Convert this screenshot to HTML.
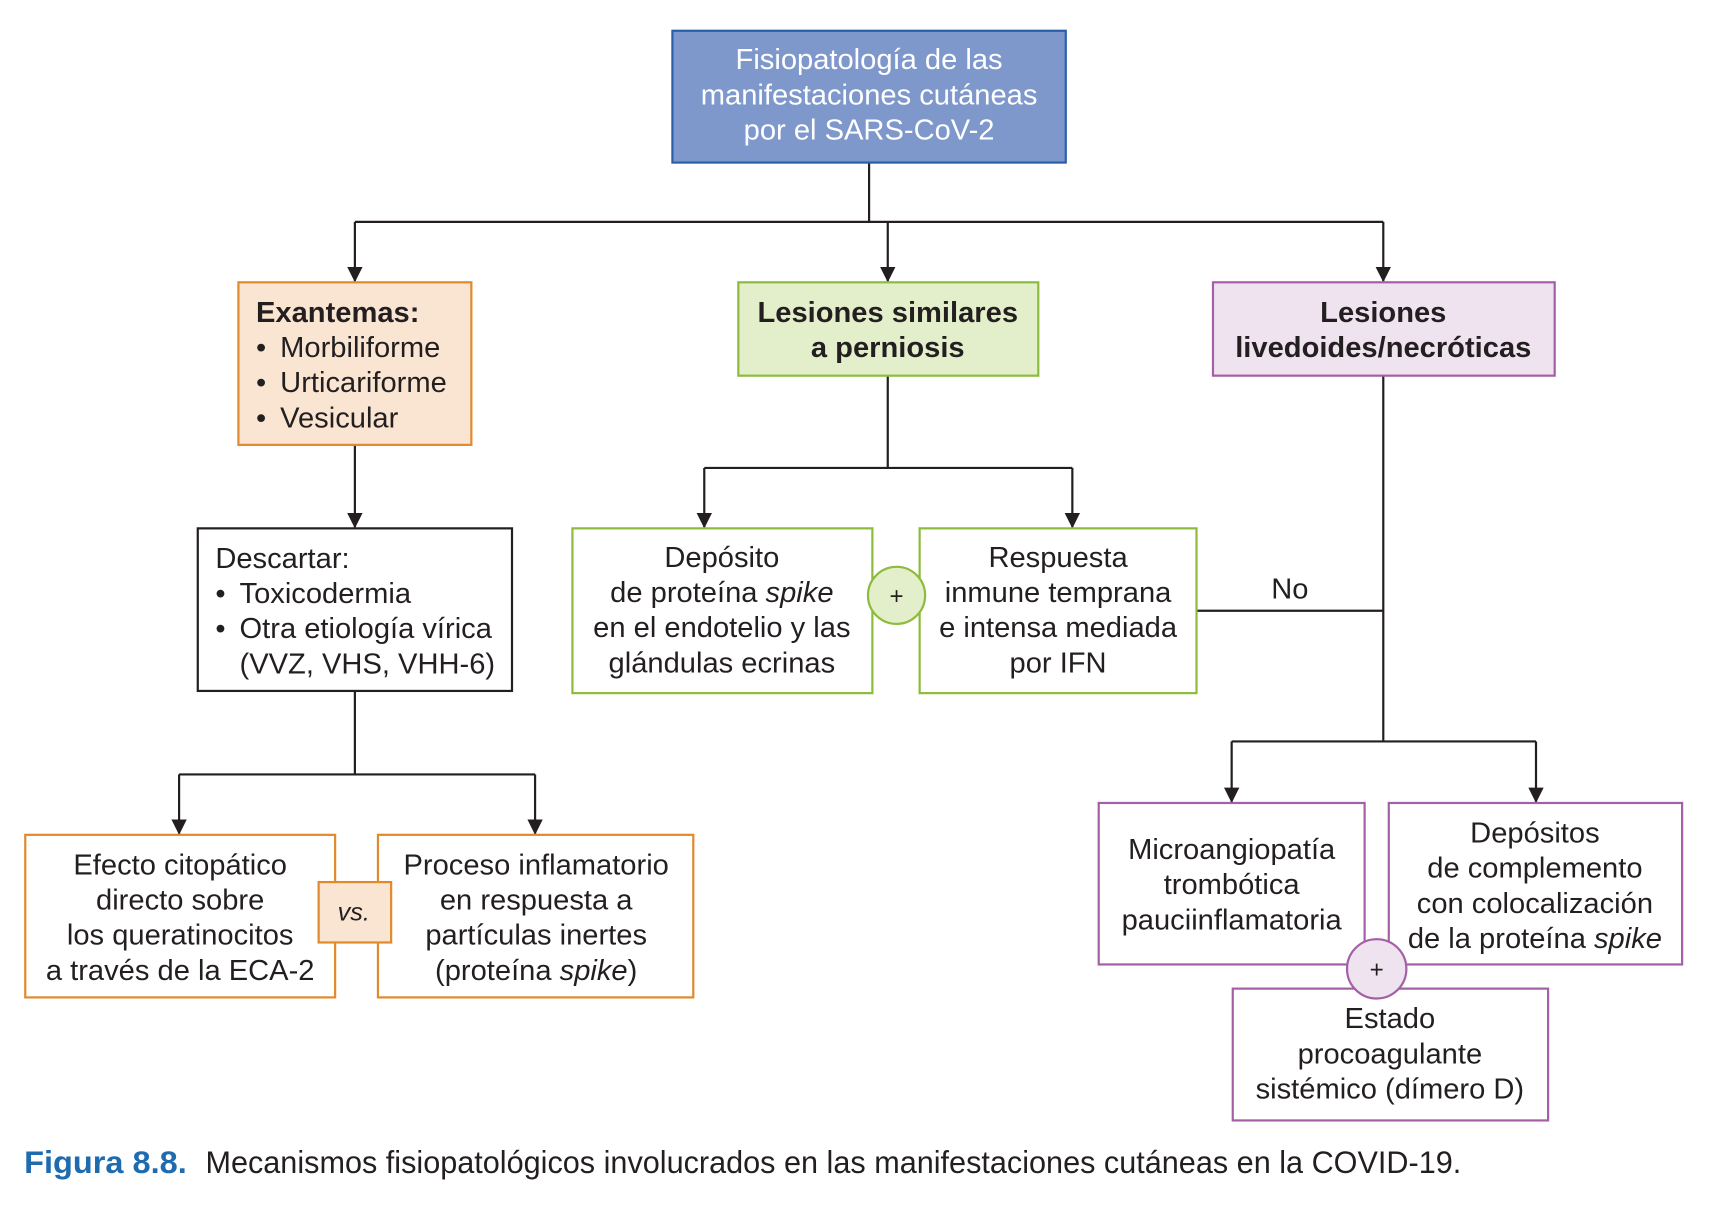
<!DOCTYPE html>
<html><head><meta charset="utf-8"><style>
html,body{margin:0;padding:0;background:#fff;}
svg{display:block;}
text{font-family:"Liberation Sans",sans-serif;font-size:26.5px;fill:#231f20;}
.b{font-weight:bold;}
.c{text-anchor:middle;}
</style></head><body>
<svg width="1714" height="1216" viewBox="0 0 1560 1107" preserveAspectRatio="none" xmlns="http://www.w3.org/2000/svg">
<defs>
<marker id="ar" viewBox="0 0 14 14" markerWidth="14" markerHeight="14" refX="7" refY="13" orient="0" markerUnits="userSpaceOnUse"><path d="M0,0 L14,0 L7,14 Z" fill="#231f20"/></marker></defs>
<g stroke="#231f20" stroke-width="2" fill="none">
<path d="M791,148 V202 M323,202 H1259"/>
<path d="M323,202 V256" marker-end="url(#ar)"/>
<path d="M808,202 V256" marker-end="url(#ar)"/>
<path d="M1259,202 V256" marker-end="url(#ar)"/>
<path d="M323,405 V480" marker-end="url(#ar)"/>
<path d="M323,629 V705 M163,705 H487"/>
<path d="M163,705 V759" marker-end="url(#ar)"/>
<path d="M487,705 V759" marker-end="url(#ar)"/>
<path d="M808,342 V426 M641,426 H976"/>
<path d="M641,426 V480" marker-end="url(#ar)"/>
<path d="M976,426 V480" marker-end="url(#ar)"/>
<path d="M1259,342 V675 M1089,556 H1259 M1121,675 H1398"/>
<path d="M1121,675 V730" marker-end="url(#ar)"/>
<path d="M1398,675 V730" marker-end="url(#ar)"/>
</g>
<rect x="612" y="28" width="358" height="120" fill="#7f98cc" stroke="#2a5ea8" stroke-width="2"/>
<text class="c" x="791" y="63" style="fill:#fff">Fisiopatología de las</text>
<text class="c" x="791" y="95" style="fill:#fff">manifestaciones cutáneas</text>
<text class="c" x="791" y="127" style="fill:#fff">por el SARS-CoV-2</text>

<rect x="217" y="257" width="212" height="148" fill="#f9e5d2" stroke="#e08a2c" stroke-width="2"/>
<text class="b" x="233" y="293">Exantemas:</text>
<text x="233" y="325">•<tspan x="255">Morbiliforme</tspan></text>
<text x="233" y="357">•<tspan x="255">Urticariforme</tspan></text>
<text x="233" y="389">•<tspan x="255">Vesicular</tspan></text>

<rect x="672" y="257" width="273" height="85" fill="#e3efcb" stroke="#8dbb3c" stroke-width="2"/>
<text class="b c" x="808" y="293">Lesiones similares</text>
<text class="b c" x="808" y="325">a perniosis</text>

<rect x="1104" y="257" width="311" height="85" fill="#efe3f0" stroke="#a55fa6" stroke-width="2"/>
<text class="b c" x="1259" y="293">Lesiones</text>
<text class="b c" x="1259" y="325">livedoides/necróticas</text>

<rect x="180" y="481" width="286" height="148" fill="#fff" stroke="#231f20" stroke-width="2"/>
<text x="196" y="517">Descartar:</text>
<text x="196" y="549">•<tspan x="218">Toxicodermia</tspan></text>
<text x="196" y="581">•<tspan x="218">Otra etiología vírica</tspan></text>
<text x="218" y="613">(VVZ, VHS, VHH-6)</text>

<rect x="23" y="760" width="282" height="148" fill="#fff" stroke="#e08a2c" stroke-width="2"/>
<text class="c" x="164" y="796">Efecto citopático</text>
<text class="c" x="164" y="828">directo sobre</text>
<text class="c" x="164" y="860">los queratinocitos</text>
<text class="c" x="164" y="892">a través de la ECA-2</text>
<rect x="344" y="760" width="287" height="148" fill="#fff" stroke="#e08a2c" stroke-width="2"/>
<text class="c" x="488" y="796">Proceso inflamatorio</text>
<text class="c" x="488" y="828">en respuesta a</text>
<text class="c" x="488" y="860">partículas inertes</text>
<text class="c" x="488" y="892">(proteína <tspan font-style="italic">spike</tspan>)</text>
<rect x="290" y="803" width="66" height="55" fill="#f9e5d2" stroke="#e08a2c" stroke-width="2"/>
<text class="c" x="322" y="838" font-style="italic" style="font-size:23px">vs.</text>

<rect x="521" y="481" width="273" height="150" fill="#fff" stroke="#8dbb3c" stroke-width="2"/>
<text class="c" x="657" y="516">Depósito</text>
<text class="c" x="657" y="548">de proteína <tspan font-style="italic">spike</tspan></text>
<text class="c" x="657" y="580">en el endotelio y las</text>
<text class="c" x="657" y="612">glándulas ecrinas</text>
<rect x="837" y="481" width="252" height="150" fill="#fff" stroke="#8dbb3c" stroke-width="2"/>
<text class="c" x="963" y="516">Respuesta</text>
<text class="c" x="963" y="548">inmune temprana</text>
<text class="c" x="963" y="580">e intensa mediada</text>
<text class="c" x="963" y="612">por IFN</text>
<circle cx="816" cy="542" r="26" fill="#e3efcb" stroke="#8dbb3c" stroke-width="2"/>
<text class="c" x="816" y="550" style="font-size:22px">+</text>
<text class="c" x="1174" y="545">No</text>

<rect x="1000" y="731" width="242" height="147" fill="#fff" stroke="#a55fa6" stroke-width="2"/>
<text class="c" x="1121" y="782">Microangiopatía</text>
<text class="c" x="1121" y="814">trombótica</text>
<text class="c" x="1121" y="846">pauciinflamatoria</text>
<rect x="1264" y="731" width="267" height="147" fill="#fff" stroke="#a55fa6" stroke-width="2"/>
<text class="c" x="1397" y="767">Depósitos</text>
<text class="c" x="1397" y="799">de complemento</text>
<text class="c" x="1397" y="831">con colocalización</text>
<text class="c" x="1397" y="863">de la proteína <tspan font-style="italic">spike</tspan></text>
<rect x="1122" y="900" width="287" height="120" fill="#fff" stroke="#a55fa6" stroke-width="2"/>
<text class="c" x="1265" y="936">Estado</text>
<text class="c" x="1265" y="968">procoagulante</text>
<text class="c" x="1265" y="1000">sistémico (dímero D)</text>
<circle cx="1253" cy="882" r="27" fill="#efe3f0" stroke="#a55fa6" stroke-width="2"/>
<text class="c" x="1253" y="890" style="font-size:22px">+</text>

<text x="22" y="1068" textLength="148" lengthAdjust="spacingAndGlyphs" font-weight="bold" style="fill:#1e6bb0;font-size:29px">Figura 8.8.</text>
<text x="187" y="1068" textLength="1143" lengthAdjust="spacingAndGlyphs" style="font-size:29px">Mecanismos fisiopatológicos involucrados en las manifestaciones cutáneas en la COVID-19.</text>
</svg>
</body></html>
